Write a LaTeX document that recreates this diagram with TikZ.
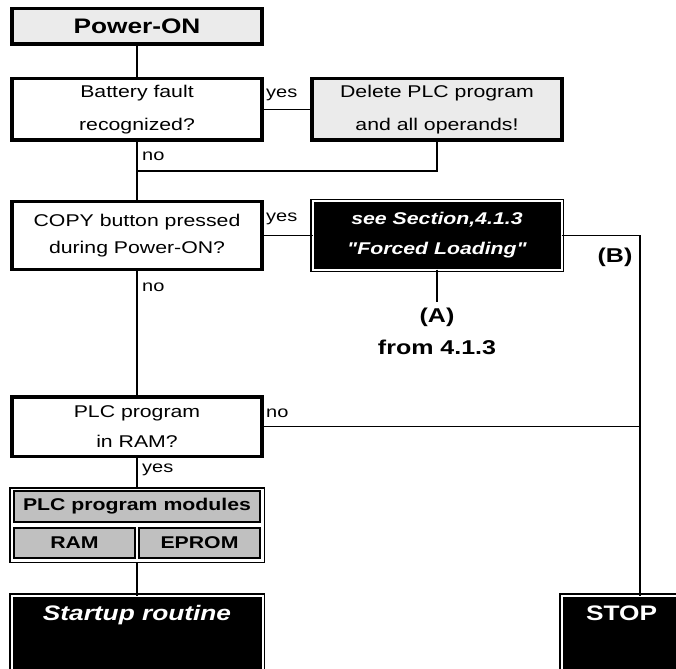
\documentclass[tikz,border=0pt]{standalone}
\usepackage{fontspec}
\setmainfont{Liberation Sans}[FakeStretch=1.25, Ligatures=TeXOff]
\definecolor{lightfill}{HTML}{EBEBEB}
\definecolor{modfill}{HTML}{C0C0C0}
\tikzset{
  conn/.style={line width=1.8pt},
  thickbox/.style={draw=black, line width=3.5pt, inner sep=0pt, outer sep=0pt, align=center, minimum width=250pt},
  blackbox/.style={fill=black, draw=black, line width=1.5pt, double=white, double distance=2pt, inner sep=0pt, outer sep=0pt, align=center, text=white},
  cell/.style={draw=black, line width=2pt, fill=modfill, inner sep=0pt, outer sep=0pt, font=\bfseries\fontsize{17}{20}\selectfont},
  lbl/.style={inner sep=0pt, font=\fontsize{16}{19}\selectfont},
  bigbl/.style={inner sep=0pt, font=\bfseries\fontsize{20}{24}\selectfont},
  whitetext/.style={inner sep=0pt, text=white, font=\bfseries\fontsize{21}{25}\selectfont}
}
\begin{document}
\begin{tikzpicture}[x=1pt, y=-1pt]
\useasboundingbox (0,0) rectangle (676,668);
\clip (0,0) rectangle (676,668);

% boxes
\node[thickbox, fill=lightfill, minimum height=35.5pt, font=\bfseries\fontsize{21}{25}\selectfont] (power) at (137,26.5) {Power-ON};
\node[thickbox, minimum height=61.5pt, font=\fontsize{17}{33}\selectfont] (batt) at (137,109.5) {Battery fault\\recognized?};
\node[thickbox, fill=lightfill, minimum height=61.5pt, font=\fontsize{17}{33}\selectfont] (del) at (437,109.5) {Delete PLC program\\and all operands!};
\node[thickbox, minimum height=67.5pt, font=\fontsize{17}{27}\selectfont] (copy) at (137,235.5) {COPY button pressed\\during Power-ON?};
\node[blackbox, minimum width=249pt, minimum height=68pt, font=\bfseries\itshape\fontsize{17}{30}\selectfont] (see) at (437,235.5) {see Section,4.1.3\\"Forced Loading"};
\node[thickbox, minimum height=59.5pt, font=\fontsize{17}{30}\selectfont] (plc) at (137,426.5) {PLC program\\in RAM?};

\node[draw=black, line width=1.5pt, fill=white, minimum width=254.5pt, minimum height=74.5pt, inner sep=0pt, outer sep=0pt] (mod) at (137,525) {};
\node[cell, minimum width=246pt, minimum height=31pt] (modhead) at (137,506.5) {PLC program modules};
\node[cell, minimum width=121pt, minimum height=30pt] (ram) at (74.5,543) {RAM};
\node[cell, minimum width=121pt, minimum height=30pt] (eprom) at (199.5,543) {EPROM};

\node[blackbox, minimum width=251pt, minimum height=120pt] (startbox) at (137,655.5) {};
\node[whitetext, font=\bfseries\itshape\fontsize{21}{25}\selectfont] (start) at (137,615) {Startup routine};
\node[blackbox, minimum width=157pt, minimum height=120pt] (stopbox) at (640,655.5) {};
\node[whitetext] (stop) at (621.5,613) {STOP};

% labels
\node[lbl, anchor=west] (yes1) at (266,95) {yes};
\node[lbl, anchor=west] (no1) at (142,156) {no};
\node[lbl, anchor=west] (yes2) at (266,219) {yes};
\node[lbl, anchor=west] (no2) at (142,287) {no};
\node[lbl, anchor=west] (no3) at (266,413) {no};
\node[lbl, anchor=west] (yes3) at (142,470) {yes};
\node[bigbl] (B) at (615,257) {(B)};
\node[bigbl, inner sep=5pt] (A) at (437,317) {(A)};
\node[bigbl] (from) at (437,347) {from 4.1.3};

% connectors
\coordinate (j1) at (137,171);
\draw[conn] (power.south) -- (batt.north);
\draw[conn] (batt.east) -- (del.west);
\draw[conn] (batt.south) -- (copy.north);
\draw[conn] (del.south) |- (j1);
\draw[conn] (copy.east) -- (see.west);
\draw[conn] (see.east) -| (stopbox.north);
\draw[conn] (see.south) -- (A.north);
\draw[conn] (copy.south) -- (plc.north);
\draw[conn] (plc.east) -- (plc.east -| stopbox.north);
\draw[conn] (plc.south) -- (mod.north);
\draw[conn] (mod.south) -- (startbox.north);
\end{tikzpicture}
\end{document}
